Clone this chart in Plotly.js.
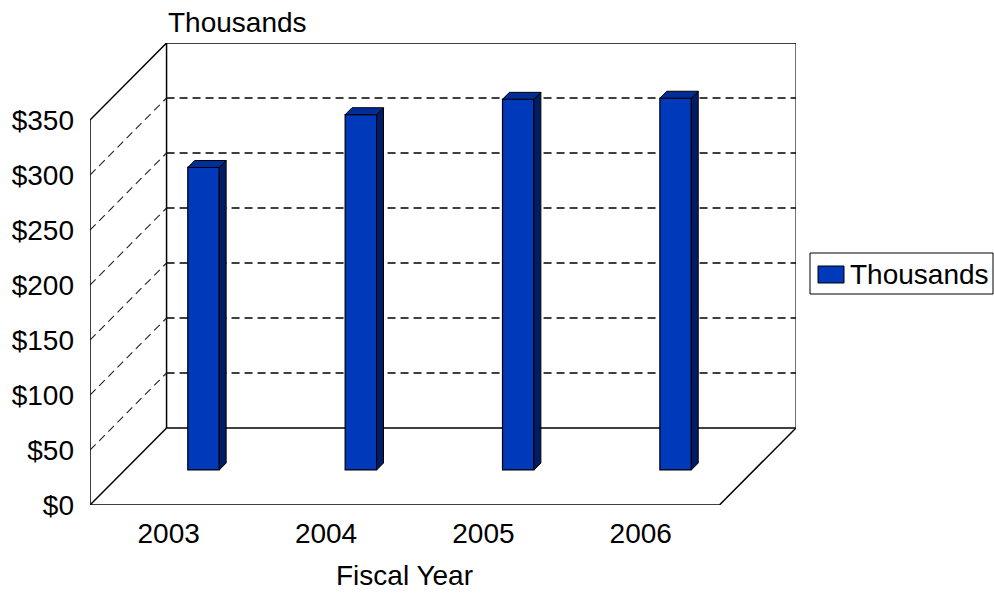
<!DOCTYPE html>
<html>
<head>
<meta charset="utf-8">
<script src="https://cdn.plot.ly/plotly-3.0.1.min.js"></script>
<style>
  html, body { margin: 0; padding: 0; background: #ffffff; }
  #chart { width: 994px; height: 593px; }
</style>
</head>
<body>
<div id="chart"></div>
<script>
// Revenue by fiscal year, in thousands of dollars
const years = ['2003', '2004', '2005', '2006'];
const values = [275, 323, 337, 338];
const yTickVals = [0, 50, 100, 150, 200, 250, 300, 350];
const yTickText = ['$0', '$50', '$100', '$150', '$200', '$250', '$300', '$350'];
const seriesName = 'Thousands';

// Oblique "3D box" geometry, expressed in axis units
const W = 994, H = 593;
const M = { l: 90, r: 198, t: 43, b: 88 };
const DX = 0.4865;      // depth offset along x (category units)
const DY = 70;          // depth offset along y (value units)
const Y_TOP = 350;      // top of the walls
const D0 = 0.455;       // depth at which the bar front faces sit
const DT = 0.09;        // bar thickness as a fraction of the depth
const BAR_W = 0.2;      // bar width (category units)
const X0 = -0.5, X1 = years.length - 0.5;

const FONT = 'Liberation Sans, Arial, sans-serif';
const FS = 28;
const C_FRONT = '#0039BA', C_TOP = '#002E99', C_SIDE = '#001C64';

const plotW = W - M.l - M.r, plotH = H - M.t - M.b;
const px = x => (x - M.l) / plotW;          // pixel -> paper x
const py = y => (H - M.b - y) / plotH;      // pixel -> paper y

const traces = [];

// Front faces of the bars
traces.push({
  type: 'bar',
  x: years.map((_, i) => i + D0 * DX),
  y: values,
  base: D0 * DY,
  width: BAR_W,
  marker: { color: C_FRONT, line: { color: '#000000', width: 1.2 } },
  hoverinfo: 'skip',
  showlegend: false
});

// Side and top faces of each bar
years.forEach((_, i) => {
  const xc = i + D0 * DX, b = D0 * DY, v = values[i];
  const xl = xc - BAR_W / 2, xr = xc + BAR_W / 2;
  const ox = DT * DX, oy = DT * DY;
  traces.push({
    type: 'scatter', mode: 'lines', fill: 'toself',
    x: [xr, xr + ox, xr + ox, xr, xr],
    y: [b, b + oy, b + v + oy, b + v, b],
    fillcolor: C_SIDE, line: { color: '#000000', width: 1 },
    hoverinfo: 'skip', showlegend: false
  });
  traces.push({
    type: 'scatter', mode: 'lines', fill: 'toself',
    x: [xl, xr, xr + ox, xl + ox, xl],
    y: [b + v, b + v, b + v + oy, b + v + oy, b + v],
    fillcolor: C_TOP, line: { color: '#000000', width: 1 },
    hoverinfo: 'skip', showlegend: false
  });
});

// Box frame: walls and floor
const solid = { color: '#000000', width: 1.5 };
const seg = (x0, y0, x1, y1, line) => ({
  type: 'line', xref: 'x', yref: 'y', x0, y0, x1, y1, line, layer: 'below'
});
const shapes = [
  seg(X0, 0, X1, 0, solid),                               // front floor edge
  seg(X1, 0, X1 + DX, DY, solid),                         // right floor edge
  seg(X0, 0, X0 + DX, DY, solid),                         // left wall / floor
  seg(X0 + DX, DY, X1 + DX, DY, solid),                   // back wall bottom
  seg(X0, 0, X0, Y_TOP, solid),                           // left wall front edge
  seg(X0, Y_TOP, X0 + DX, Y_TOP + DY, solid),             // left wall top
  seg(X0 + DX, DY, X0 + DX, Y_TOP + DY, solid),           // back wall left
  seg(X1 + DX, DY, X1 + DX, Y_TOP + DY, { color: '#444444', width: 1.5 }), // back wall right
  seg(X0 + DX, Y_TOP + DY, X1 + DX, Y_TOP + DY, solid)    // back wall top
];
const dashedBack = { color: '#000000', width: 1.3, dash: '8px,5px' };
const dashedSide = { color: '#222222', width: 1.1, dash: '8px,5px' };
yTickVals.filter(v => v > 0 && v < Y_TOP).forEach(v => {
  shapes.push(seg(X0 + DX, v + DY, X1 + DX, v + DY, dashedBack)); // back wall gridline
  shapes.push(seg(X0, v, X0 + DX, v + DY, dashedSide));           // left wall gridline
});

// Legend box
shapes.push({
  type: 'rect', xref: 'paper', yref: 'paper',
  x0: px(810), x1: px(993), y0: py(294), y1: py(253),
  line: { color: '#000000', width: 1 }, fillcolor: '#ffffff'
});
shapes.push({
  type: 'rect', xref: 'paper', yref: 'paper',
  x0: px(818), x1: px(844), y0: py(283), y1: py(266),
  line: { color: '#000000', width: 1 }, fillcolor: C_FRONT
});

const annotations = [
  {
    text: seriesName, xref: 'paper', yref: 'paper',
    x: px(848), y: py(274.5), xanchor: 'left', yanchor: 'middle',
    showarrow: false, font: { family: FONT, size: FS, color: '#000000' }
  },
  {
    text: 'Thousands', xref: 'paper', yref: 'paper',
    x: px(166), y: py(22), xanchor: 'left', yanchor: 'middle',
    showarrow: false, font: { family: FONT, size: FS, color: '#000000' }
  },
  {
    text: 'Fiscal Year', xref: 'x', yref: 'paper',
    x: (X0 + X1) / 2, y: py(575), xanchor: 'center', yanchor: 'middle',
    showarrow: false, font: { family: FONT, size: FS, color: '#000000' }
  }
];

const layout = {
  width: W, height: H,
  margin: { l: M.l, r: M.r, t: M.t, b: M.b, pad: 0 },
  paper_bgcolor: '#ffffff', plot_bgcolor: '#ffffff',
  font: { family: FONT, size: FS, color: '#000000' },
  showlegend: false,
  xaxis: {
    range: [X0, X1 + DX], fixedrange: true,
    tickvals: years.map((_, i) => i), ticktext: years,
    showgrid: false, zeroline: false, showline: false, ticks: '',
    ticklabelstandoff: 9,
    tickfont: { family: FONT, size: FS, color: '#000000' }
  },
  yaxis: {
    range: [0, Y_TOP + DY], fixedrange: true,
    tickvals: yTickVals, ticktext: yTickText,
    showgrid: false, zeroline: false, showline: false, ticks: '',
    ticklabelstandoff: 15,
    tickfont: { family: FONT, size: FS, color: '#000000' }
  },
  shapes, annotations
};

Plotly.newPlot('chart', traces, layout, { staticPlot: true, displayModeBar: false });
</script>
</body>
</html>
